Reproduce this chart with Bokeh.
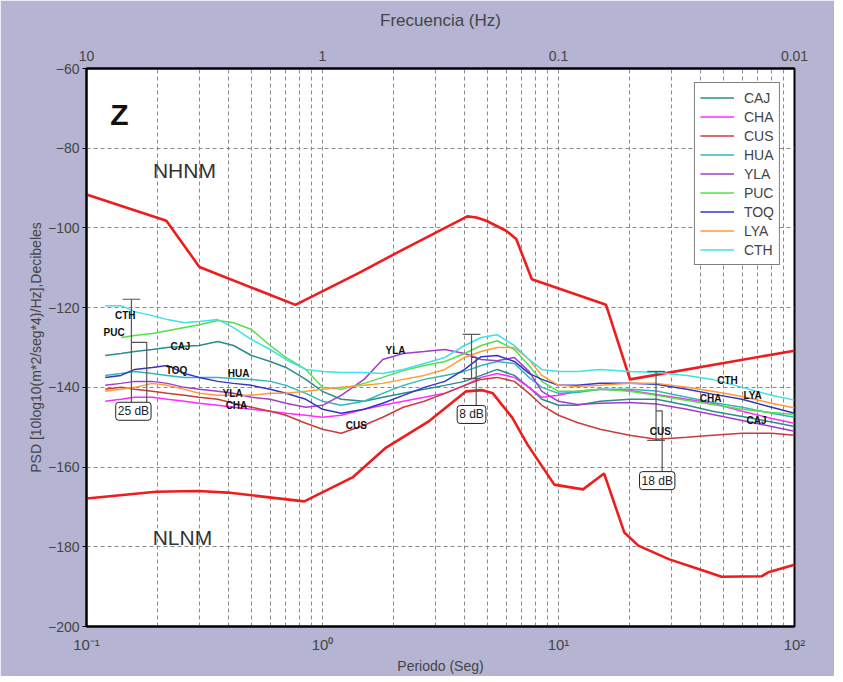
from bokeh.plotting import figure
from bokeh.models import FixedTicker, LogAxis, Label, ColumnDataSource, Range1d
from bokeh.core.properties import value
from bokeh.embed import file_html
from bokeh.resources import INLINE

NAN = float("nan")

# ---------------- data ----------------
periods = [0.12, 0.14, 0.16, 0.19, 0.22, 0.26, 0.30, 0.36, 0.42, 0.50, 0.60, 0.70,
           0.85, 1.0, 1.2, 1.5, 1.8, 2.2, 2.7, 3.3, 4.0, 4.7, 5.5, 6.5, 7.5, 8.5,
           10, 12, 15, 20, 26, 35, 45, 60, 80, 100]

CAJ = [-132, -131.5, -131, -130.5, -130, -129.7, -129.5, -128.5, -129.5, -132, -133.5, -135,
       -138, -141, -143, -143.5, -142.5, -141.5, -140.5, -139.5, -138.5, -137, -135.5, -137,
       -140, -143, -144.5, -144.5, -143.5, -143, -143, -144.5, -146, -147.3, -148.7, -149.8]
CHA = [-143.5, -143, -142.5, -142.5, -143, -143.5, -144, -144.5, -145, -145.5, -146, -146.5,
       -147, -147.5, -147, -145.5, -144.5, -143.5, -142.5, -141.5, -139.5, -137.5, -136.5, -137.5,
       -140, -142.5, -142, -141, -140.5, -140.8, -141.8, -143, -144, -146, -147.8, -149]
CUS = [-140.5, -140, -140.5, -141, -141.5, -142, -142.5, -143, -144, -145, -146, -147,
       -149, -150.5, -151.5, -149.5, -147.5, -145, -143.5, -141.5, -139.5, -138, -137.5, -138.5,
       -141.5, -144.5, -147, -148.8, -150.5, -152, -153, -152.5, -152, -151.5, -151.5, -152]
HUA = [-137, -136.5, -136, -136.5, -137, -137.5, -137.5, -137.5, -137.8, -138, -138.5, -139.5,
       -141.5, -143.5, -144.5, -143.5, -141.5, -139.5, -138, -137, -136, -134.5, -133.5, -134,
       -137.5, -140, -141.5, -141.3, -140.5, -140.5, -140.9, -142.5, -143.8, -145, -146.5, -147.5]
YLA = [-139.5, -139, -138.5, -138.5, -139, -140, -140.5, -141, -141.5, -142.5, -143, -144,
       -145, -144.5, -142, -138, -133, -131.5, -131, -130.5, -131.5, -133, -133.3, -132.5,
       -136, -141, -143.5, -144.3, -144, -143.8, -144.2, -145.5, -146.8, -148.3, -149.8, -151]
PUC = [NAN, -127.5, -127, -126.5, -125.8, -125, -124.3, -123.2, -123.8, -125.5, -129.5, -132.5,
       -135.5, -140, -140.5, -139, -137.5, -135.8, -134.5, -133.5, -131.5, -129.5, -128.3, -130.5,
       -134.5, -138.5, -141, -141, -140.5, -141, -142, -143.3, -144.3, -145.5, -146.3, -146.8]
TOQ = [-137.5, -137, -135.5, -135, -134.5, -136.5, -137.5, -138.5, -139, -139.5, -140.5, -141.5,
       -143, -145.5, -146.5, -145.5, -144, -142, -140, -138.5, -135.5, -132.3, -132, -133.5,
       -136.5, -138, -139.5, -139.5, -139, -139, -139.2, -140.5, -141.7, -143, -145, -146.5]
LYA = [-141, -140.5, -140, -139, -139.5, -140.5, -141.5, -142, -142, -142, -141.5, -141.5,
       -141, -140.5, -140, -139.5, -139, -138, -137, -135.5, -132.5, -131, -130, -130,
       -133, -137, -139.5, -139.8, -139.5, -139, -139, -140, -141, -142.3, -144, -145.2]
CTH = [-119.5, -119.5, -121, -122, -123, -123.8, -123.5, -123, -125, -128, -130.5, -133,
       -135.5, -136, -136.3, -136.3, -136.5, -135.5, -134, -132.5, -129.5, -127.5, -126.8, -129.5,
       -133, -135.5, -136, -136, -135.5, -136, -136.3, -137, -138, -140, -142, -143.2]

station_names = ["CAJ", "CHA", "CUS", "HUA", "YLA", "PUC", "TOQ", "LYA", "CTH"]
station_values = [CAJ, CHA, CUS, HUA, YLA, PUC, TOQ, LYA, CTH]
station_colors = ["#2b8c8c", "#ff2bff", "#cc3b3b", "#30b8b8", "#a53ccc",
                  "#55e04a", "#3434c8", "#ff9a35", "#3fe0ea"]

# Peterson noise models as drawn
nhnm_p = [0.1, 0.218, 0.301, 0.768, 1.435, 2.18, 4.11, 4.49, 4.94, 6.0, 6.62, 7.71, 15.9, 20.1, 100]
nhnm_db = [-91.6, -98.2, -109.8, -119.3, -111.2, -105.5, -97.1, -97.4, -98.2, -100.7, -102.8,
           -112.9, -119.3, -138.0, -130.8]
nlnm_p = [0.1, 0.197, 0.296, 0.397, 0.837, 1.34, 1.86, 2.84, 4.06, 4.76, 5.27, 6.37, 7.38,
          9.6, 12.7, 15.6, 19.0, 21.8, 29.3, 39.2, 49.1, 72.5, 77.4, 100]
nlnm_db = [-167.9, -166.2, -166.0, -166.4, -168.6, -162.6, -155.1, -148.4, -141.0, -140.7,
           -141.5, -147.6, -154.3, -164.4, -165.6, -161.6, -176.4, -179.7, -183.1, -185.6,
           -187.5, -187.4, -186.4, -184.5]

# in-plot station labels
lab_text = ["CTH", "PUC", "CAJ", "TOQ", "HUA", "YLA", "CHA", "YLA", "CUS",
            "CTH", "CHA", "LYA", "CAJ", "CUS"]
lab_p = [0.146, 0.131, 0.250, 0.241, 0.441, 0.416, 0.432, 2.04, 1.39,
         52.0, 44.1, 66.4, 69.0, 27.0]
lab_db = [-122.0, -126.2, -129.7, -135.8, -136.5, -141.5, -144.5, -130.7, -149.6,
          -138.3, -142.8, -142.0, -148.3, -151.1]

# range bars
bar_p = [0.155, 4.28, 25.9]
bar_top = [-117.9, -126.7, -136.0]
bar_bot = [-144.2, -137.8, -153.3]
bar_mid = [-128.7, -132.5, -145.9]
bracket_p = [0.18, 4.48, 27.5]
bar_text = ["25 dB", "8 dB", "18 dB"]
bar_text_p = [0.158, 4.28, 26.2]
bar_text_db = [-146.0, -146.8, -163.4]
bar_bottom_cap_color = ["#e03030", "#555555", "#555555"]

y_ticks = [-200, -180, -160, -140, -120, -100, -80, -60]
period_ticks = [0.1, 1, 10, 100]
period_tick_text = ["10⁻¹", "10⁰", "10¹", "10²"]
freq_tick_text = ["10", "1", "0.1", "0.01"]

# ---------------- figure ----------------
FONT = "Liberation Sans"
p = figure(x_axis_type="log", x_range=Range1d(0.1, 100), y_range=Range1d(-200, -60),
           frame_width=708, frame_height=558,
           min_border_left=86, min_border_right=40, min_border_top=68, min_border_bottom=45,
           output_backend="svg", toolbar_location=None,
           background_fill_color="white", border_fill_color="#b5b5d3",
           outline_line_color="black", outline_line_width=2)

minor_p = [m * 10.0 ** k for k in (-1, 0, 1) for m in range(2, 10)]
xt = FixedTicker(ticks=period_ticks, minor_ticks=minor_p)
p.xaxis.ticker = xt
p.xgrid.ticker = xt
yt = FixedTicker(ticks=y_ticks)
p.yaxis.ticker = yt
p.ygrid.ticker = yt

p.xaxis.major_label_overrides = dict(zip(period_ticks, period_tick_text))
p.xaxis.axis_label = "Periodo (Seg)"
p.xaxis.axis_label_text_font = FONT
p.xaxis.axis_label_text_font_size = "14px"
p.xaxis.axis_label_text_font_style = "normal"
p.xaxis.axis_label_standoff = 2
p.xaxis.major_label_standoff = 3
p.xaxis.major_label_text_font = FONT
p.xaxis.major_label_text_font_size = "15px"
p.xaxis.major_tick_line_color = None
p.xaxis.minor_tick_line_color = None
p.xaxis.axis_line_width = 2

p.yaxis.axis_label = "PSD [10log10(m*2/seg*4)/Hz],Decibeles"
p.yaxis.axis_label_text_font = FONT
p.yaxis.axis_label_text_font_size = "14px"
p.yaxis.axis_label_text_font_style = "normal"
p.yaxis.axis_label_standoff = 1
p.yaxis.major_label_text_font = FONT
p.yaxis.major_label_text_font_size = "14px"
p.yaxis.major_tick_out = 4
p.yaxis.major_tick_in = 0
p.yaxis.minor_tick_line_color = None
p.yaxis.axis_line_width = 2
p.yaxis.major_label_standoff = 3

top = LogAxis(ticker=FixedTicker(ticks=period_ticks),
              major_label_overrides=dict(zip(period_ticks, freq_tick_text)),
              axis_label="Frecuencia (Hz)", axis_label_text_font=FONT,
              axis_label_text_font_size="17px", axis_label_text_font_style="normal",
              axis_label_standoff=18, major_label_standoff=2,
              major_label_text_font=FONT, major_label_text_font_size="14px",
              major_tick_line_color=None, minor_tick_line_color=None, axis_line_width=2)
p.add_layout(top, "above")

for g in (p.xgrid, p.ygrid):
    g.grid_line_color = "#8a8a8a"
    g.grid_line_dash = "4 3"
    g.grid_line_width = 1
p.xgrid.minor_grid_line_color = "#8a8a8a"
p.xgrid.minor_grid_line_dash = "4 3"

# noise models
p.line(nhnm_p, nhnm_db, line_color="#ee1c1c", line_width=2.6)
p.line(nlnm_p, nlnm_db, line_color="#ee1c1c", line_width=2.6)

# stations
for name, vals, col in zip(station_names, station_values, station_colors):
    p.line(periods, vals, line_color=col, line_width=1.5, legend_label=name)

# range bars
for i in range(len(bar_p)):
    bp = bar_p[i]
    p.line([bp, bp], [bar_top[i], bar_bot[i]], line_color="#555555", line_width=1.2)
    p.line([bp / 1.09, bp * 1.09], [bar_top[i], bar_top[i]], line_color="#555555", line_width=1.2)
    p.line([bp / 1.09, bp * 1.09], [bar_bot[i], bar_bot[i]],
           line_color=bar_bottom_cap_color[i], line_width=1.2)
    p.line([bp, bracket_p[i], bracket_p[i]], [bar_mid[i], bar_mid[i], bar_text_db[i]],
           line_color="#555555", line_width=1.2)
    p.add_layout(Label(x=bar_text_p[i], y=bar_text_db[i], text=bar_text[i],
                       text_align="center", text_baseline="middle",
                       text_font=FONT, text_font_size="12px", text_color="#222222",
                       border_line_color="#222222", border_line_width=1,
                       background_fill_color="white", padding=2, border_radius=3))

# station labels
src = ColumnDataSource(dict(x=lab_p, y=lab_db, t=lab_text))
p.text("x", "y", text="t", source=src, text_font=value(FONT), text_font_size="10px",
       text_font_style="bold", text_color="#111111",
       text_align="center", text_baseline="middle")

# big labels
p.add_layout(Label(x=0.138, y=-71.5, text="Z", text_font=FONT, text_font_size="30px",
                   text_font_style="bold", text_align="center", text_baseline="middle",
                   text_color="#111111"))
p.add_layout(Label(x=0.26, y=-85.6, text="NHNM", text_font=FONT, text_font_size="21px",
                   text_align="center", text_baseline="middle", text_color="#333333"))
p.add_layout(Label(x=0.255, y=-177.7, text="NLNM", text_font=FONT, text_font_size="21px",
                   text_align="center", text_baseline="middle", text_color="#333333"))

# legend
lg = p.legend[0]
lg.location = "top_right"
lg.margin = 14
lg.padding = 5
lg.spacing = 0
lg.glyph_width = 34
lg.glyph_height = 19
lg.label_height = 19
lg.label_standoff = 10
lg.label_text_font = FONT
lg.label_text_font_size = "14px"
lg.border_line_color = "black"
lg.border_line_width = 1
lg.background_fill_alpha = 1.0

open("out.html", "w").write(file_html(p, INLINE))
